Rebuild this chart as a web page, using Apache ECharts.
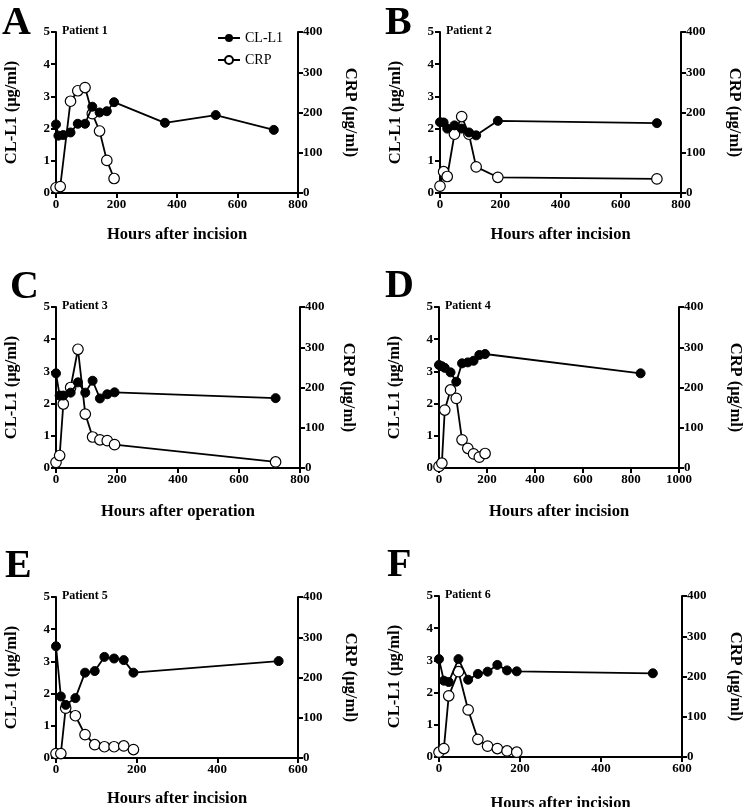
<!DOCTYPE html>
<html>
<head>
<meta charset="utf-8">
<script src="https://cdn.jsdelivr.net/npm/echarts@6/dist/echarts.min.js"></script>
<style>
  html, body { margin: 0; padding: 0; background: #fff; }
  #chart { width: 745px; height: 807px; }
</style>
</head>
<body>
<div id="chart"></div>
<script>
// Patient 1
const p1ClHours = [0, 8, 24, 48, 72, 96, 120, 144, 168, 192, 360, 528, 720];
const p1ClValues = [2.13, 1.78, 1.80, 1.88, 2.15, 2.15, 2.68, 2.50, 2.54, 2.82, 2.18, 2.42, 1.96];
const p1CrpHours = [0, 14, 48, 72, 96, 120, 144, 168, 192];
const p1CrpValues = [13, 16, 228, 254, 262, 197, 154, 81, 36];
// Patient 2
const p2ClHours = [0, 12, 24, 48, 72, 96, 120, 192, 720];
const p2ClValues = [2.20, 2.19, 2.00, 2.10, 2.00, 1.88, 1.79, 2.24, 2.17];
const p2CrpHours = [0, 12, 24, 48, 72, 96, 120, 192, 720];
const p2CrpValues = [17, 53, 41, 146, 190, 146, 65, 39, 35];
// Patient 3
const p3ClHours = [0, 12, 24, 48, 72, 96, 120, 144, 168, 192, 720];
const p3ClValues = [2.94, 2.25, 2.25, 2.34, 2.66, 2.34, 2.71, 2.16, 2.29, 2.35, 2.17];
const p3CrpHours = [0, 12, 24, 48, 72, 96, 120, 144, 168, 192, 720];
const p3CrpValues = [14, 31, 159, 200, 295, 134, 77, 70, 68, 58, 15];
// Patient 4
const p4ClHours = [0, 12, 24, 48, 72, 96, 120, 144, 168, 192, 840];
const p4ClValues = [3.20, 3.16, 3.11, 2.97, 2.68, 3.25, 3.28, 3.33, 3.51, 3.54, 2.94];
const p4CrpHours = [0, 12, 24, 48, 72, 96, 120, 144, 168, 192];
const p4CrpValues = [4, 12, 144, 194, 173, 70, 49, 35, 27, 36];
// Patient 5
const p5ClHours = [0, 12, 24, 48, 72, 96, 120, 144, 168, 192, 552];
const p5ClValues = [3.47, 1.91, 1.65, 1.86, 2.65, 2.70, 3.14, 3.09, 3.04, 2.65, 3.01];
const p5CrpHours = [0, 12, 24, 48, 72, 96, 120, 144, 168, 192];
const p5CrpValues = [11, 11, 124, 105, 58, 33, 28, 28, 30, 21];
// Patient 6
const p6ClHours = [0, 12, 24, 48, 72, 96, 120, 144, 168, 192, 528];
const p6ClValues = [3.04, 2.37, 2.33, 3.04, 2.40, 2.58, 2.65, 2.86, 2.69, 2.66, 2.60];
const p6CrpHours = [0, 12, 24, 48, 72, 96, 120, 144, 168, 192];
const p6CrpValues = [12, 21, 152, 212, 117, 44, 27, 21, 15, 12];

const clTicks = [0, 5, 1];     // min, max, interval
const crpTicks = [0, 400, 100];

const font = '"Liberation Serif", "Times New Roman", serif';

// layout of each panel
const panels = [
  { letter: 'A', patient: 'Patient 1', left: 56, top: 32, width: 242, xMax: 800, xName: 'Hours after incision', xGap: 33, rGap: 44, lx: 2, ly: 24, cl: [p1ClHours, p1ClValues], crp: [p1CrpHours, p1CrpValues] },
  { letter: 'B', patient: 'Patient 2', left: 440, top: 32, width: 241, xMax: 800, xName: 'Hours after incision', xGap: 33, rGap: 45, lx: 385, ly: 24, cl: [p2ClHours, p2ClValues], crp: [p2CrpHours, p2CrpValues] },
  { letter: 'C', patient: 'Patient 3', left: 56, top: 307, width: 244, xMax: 800, xName: 'Hours after operation', xGap: 35, rGap: 40, lx: 10, ly: 288, cl: [p3ClHours, p3ClValues], crp: [p3CrpHours, p3CrpValues] },
  { letter: 'D', patient: 'Patient 4', left: 439, top: 307, width: 240, xMax: 1000, xName: 'Hours after incision', xGap: 35, rGap: 48, lx: 385, ly: 287, cl: [p4ClHours, p4ClValues], crp: [p4CrpHours, p4CrpValues] },
  { letter: 'E', patient: 'Patient 5', left: 56, top: 597, width: 242, xMax: 600, xName: 'Hours after incision', xGap: 32, rGap: 44, lx: 5, ly: 567, cl: [p5ClHours, p5ClValues], crp: [p5CrpHours, p5CrpValues] },
  { letter: 'F', patient: 'Patient 6', left: 439, top: 596, width: 243, xMax: 600, xName: 'Hours after incision', xGap: 38, rGap: 45, lx: 387, ly: 566, cl: [p6ClHours, p6ClValues], crp: [p6CrpHours, p6CrpValues] }
];

const pairs = (xs, ys) => xs.map((x, k) => [x, ys[k]]);

const axisLine = { show: true, lineStyle: { color: '#000', width: 2 } };
const axisTick = { show: true, length: 5, lineStyle: { color: '#000', width: 2 } };
const labelStyle = { color: '#000', fontFamily: font, fontSize: 13, fontWeight: 'bold', formatter: v => String(v) };
const nameStyle = { color: '#000', fontFamily: font, fontSize: 16.5, fontWeight: 'bold' };

const option = {
  animation: false,
  backgroundColor: '#fff',
  grid: [], xAxis: [], yAxis: [], series: [], graphic: [],
  legend: {
    data: ['CL-L1', 'CRP'],
    orient: 'vertical',
    left: 212, top: 26,
    itemWidth: 22, itemHeight: 10, itemGap: 8,
    selectedMode: false,
    textStyle: { color: '#000', fontFamily: font, fontSize: 14 }
  }
};

panels.forEach((p, i) => {
  option.grid.push({ left: p.left, top: p.top, width: p.width, height: 161, outerBoundsMode: 'none' });
  option.xAxis.push({
    type: 'value', gridIndex: i, min: 0, max: p.xMax, interval: 200,
    name: p.xName, nameLocation: 'middle', nameGap: p.xGap, nameTextStyle: nameStyle,
    axisLine, axisTick, splitLine: { show: false },
    axisLabel: Object.assign({ margin: 5 }, labelStyle)
  });
  option.yAxis.push({
    type: 'value', gridIndex: i, position: 'left',
    min: clTicks[0], max: clTicks[1], interval: clTicks[2],
    name: 'CL-L1 (μg/ml)', nameLocation: 'middle', nameGap: 36, nameTextStyle: nameStyle,
    axisLine, axisTick, splitLine: { show: false },
    axisLabel: Object.assign({ margin: 6 }, labelStyle)
  });
  option.yAxis.push({
    type: 'value', gridIndex: i, position: 'right',
    min: crpTicks[0], max: crpTicks[1], interval: crpTicks[2],
    name: 'CRP (μg/ml)', nameLocation: 'middle', nameRotate: -90, nameGap: p.rGap, nameTextStyle: nameStyle,
    axisLine, axisTick, splitLine: { show: false },
    axisLabel: Object.assign({ margin: 5 }, labelStyle)
  });
  option.series.push({
    name: 'CRP', type: 'line', xAxisIndex: i, yAxisIndex: 2 * i + 1,
    data: pairs(p.crp[0], p.crp[1]),
    symbol: 'circle', symbolSize: 10.5,
    lineStyle: { color: '#000', width: 1.8 },
    itemStyle: { color: '#fff', borderColor: '#000', borderWidth: 1.2 },
    z: 2
  });
  option.series.push({
    name: 'CL-L1', type: 'line', xAxisIndex: i, yAxisIndex: 2 * i,
    data: pairs(p.cl[0], p.cl[1]),
    symbol: 'circle', symbolSize: 9,
    lineStyle: { color: '#000', width: 1.8 },
    itemStyle: { color: '#000', borderColor: '#000' },
    z: 3
  });
  option.graphic.push({
    type: 'text', left: p.lx, top: p.ly - 20,
    style: { text: p.letter, fill: '#000', font: 'bold 40px ' + font }
  });
  option.graphic.push({
    type: 'text', left: p.left + 6, top: p.top - 7,
    style: { text: p.patient, fill: '#000', font: 'bold 12px ' + font }
  });
});

const chart = echarts.init(document.getElementById('chart'));
chart.setOption(option);
</script>
</body>
</html>
